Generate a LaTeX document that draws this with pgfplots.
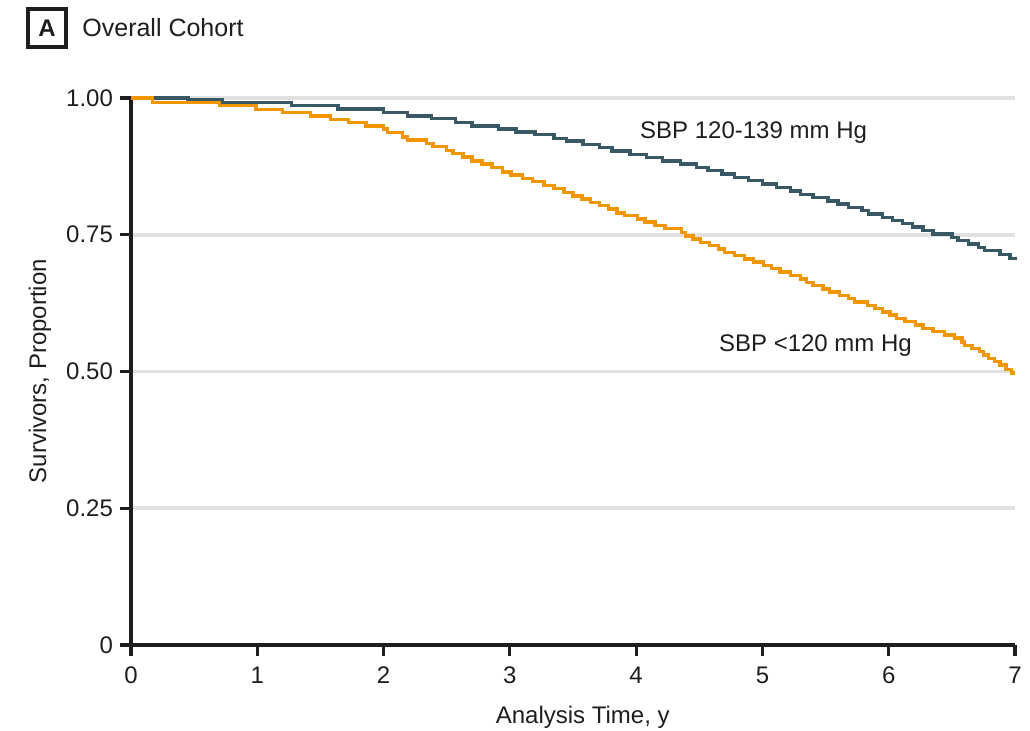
\documentclass[border=0pt]{standalone}
\usepackage{fontspec}
\setmainfont{Liberation Sans}
\usepackage{pgfplots}
\usepackage{pgfplotstable}
\pgfplotsset{compat=1.18}

\definecolor{sbphigh}{HTML}{385864}
\definecolor{sbplow}{HTML}{F29600}
\definecolor{gridgray}{HTML}{E1E1E1}
\definecolor{ink}{HTML}{1E1E1E}

% Kaplan-Meier estimates, SBP 120-139 mm Hg
\pgfplotstableread{
t     s
0.00  1.000
0.45  0.996
0.72  0.992
1.27  0.986
1.64  0.980
2.00  0.973
2.19  0.967
2.38  0.962
2.57  0.955
2.70  0.949
2.91  0.943
3.05  0.938
3.20  0.933
3.35  0.926
3.45  0.921
3.58  0.915
3.71  0.909
3.81  0.903
3.95  0.897
4.08  0.891
4.21  0.885
4.35  0.879
4.48  0.873
4.57  0.867
4.68  0.861
4.78  0.855
4.89  0.849
5.00  0.843
5.11  0.836
5.22  0.830
5.30  0.824
5.40  0.818
5.52  0.812
5.60  0.806
5.68  0.800
5.79  0.794
5.84  0.788
5.95  0.782
6.03  0.776
6.11  0.770
6.19  0.764
6.27  0.758
6.35  0.751
6.50  0.745
6.55  0.739
6.63  0.733
6.71  0.727
6.76  0.721
6.88  0.714
6.96  0.707
7.00  0.703
}\sbphightable

% Kaplan-Meier estimates, SBP <120 mm Hg
\pgfplotstableread{
t     s
0.00  1.000
0.17  0.992
0.70  0.986
0.99  0.979
1.20  0.973
1.42  0.967
1.58  0.961
1.72  0.955
1.86  0.949
2.00  0.943
2.03  0.937
2.15  0.929
2.19  0.923
2.34  0.917
2.39  0.911
2.50  0.904
2.55  0.898
2.63  0.892
2.70  0.885
2.78  0.879
2.86  0.873
2.94  0.865
3.01  0.859
3.10  0.853
3.18  0.847
3.27  0.840
3.35  0.834
3.43  0.827
3.50  0.821
3.57  0.815
3.64  0.809
3.71  0.803
3.78  0.797
3.85  0.790
3.91  0.785
4.01  0.779
4.07  0.773
4.15  0.767
4.23  0.761
4.36  0.754
4.39  0.748
4.45  0.742
4.51  0.736
4.58  0.730
4.65  0.724
4.70  0.718
4.78  0.712
4.86  0.706
4.93  0.700
5.01  0.694
5.07  0.688
5.14  0.682
5.22  0.676
5.30  0.669
5.35  0.663
5.40  0.657
5.48  0.651
5.53  0.645
5.61  0.639
5.68  0.633
5.73  0.627
5.83  0.621
5.89  0.615
5.95  0.609
6.01  0.603
6.06  0.597
6.13  0.591
6.21  0.585
6.27  0.579
6.35  0.573
6.44  0.567
6.52  0.561
6.58  0.554
6.60  0.548
6.66  0.542
6.72  0.536
6.75  0.530
6.79  0.524
6.84  0.518
6.88  0.512
6.93  0.504
6.97  0.497
7.00  0.497
}\sbplowtable

\begin{document}
\begin{tikzpicture}[font=\fontsize{12}{14}\selectfont, text=ink]
\useasboundingbox (0,0) rectangle (515pt,365.5pt);
\begin{axis}[
  at={(65.5pt,43pt)}, anchor=south west,
  scale only axis, width=442pt, height=273.5pt,
  xmin=0, xmax=7, ymin=0, ymax=1,
  axis x line=bottom, axis y line=left,
  axis line style={ink, line width=1.6pt, -},
  xtick={0,1,2,3,4,5,6,7},
  xticklabels={0,1,2,3,4,5,6,7},
  ytick={0,0.25,0.5,0.75,1},
  yticklabels={0,0.25,0.50,0.75,1.00},
  tick align=outside, major tick length=5.5pt,
  tick style={ink, line width=1.6pt},
  ymajorgrids, grid style={gridgray, line width=1.8pt},
  /pgf/number format/assume math mode=true,
  ticklabel style={font=\fontsize{12}{14}\selectfont, text=ink},
  xticklabel style={yshift=-2pt},
  clip=false,
]
\addplot[const plot, sbphigh, line width=1.7pt] table[x=t, y=s] {\sbphightable};
\addplot[const plot, sbplow, line width=1.7pt] table[x=t, y=s] {\sbplowtable};
\node at (axis cs:4.93,0.936) {SBP 120-139 mm Hg};
\node at (axis cs:5.42,0.548) {SBP <120 mm Hg};
\node at (rel axis cs:0.511,0) [yshift=-36pt] {Analysis Time, y};
\end{axis}
\node[rotate=90] at (20pt,180pt) {Survivors, Proportion};
\draw[ink, line width=2pt] (14pt,342pt) rectangle (33pt,361pt);
\node[font=\fontsize{12}{14}\selectfont\bfseries] at (23.5pt,351.5pt) {A};
\node[anchor=west, inner sep=0pt, font=\fontsize{12.5}{14}\selectfont] at (41pt,351.5pt) {Overall Cohort};
\end{tikzpicture}
\end{document}
